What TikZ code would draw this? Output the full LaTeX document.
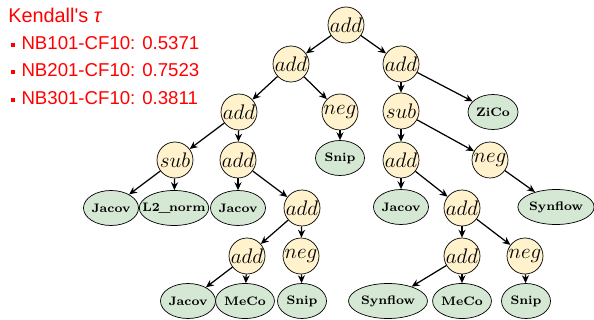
\documentclass[tikz,border=0pt]{standalone}
\usepackage{fontspec}
\newfontfamily\arialfont{Liberation Sans}
\usetikzlibrary{shapes.geometric,arrows.meta,positioning}

\definecolor{opfill}{HTML}{FFF2CC}
\definecolor{leaffill}{HTML}{D5E8D4}

\tikzset{
  op/.style={circle,draw,fill=opfill,inner sep=0pt,minimum size=0.72cm,font=\fontsize{11.8}{13}\selectfont},
  leaf/.style={ellipse,draw,fill=leaffill,inner xsep=0pt,inner ysep=0pt,minimum height=0.7cm,minimum width=1cm,font=\scriptsize\bfseries},
  arr/.style={-{Stealth[length=4.5pt,width=4pt]},line width=0.7pt},
  redtxt/.style={anchor=west,inner sep=0pt,text=red,font=\arialfont\fontsize{10.6}{12}\selectfont}
}

\newcommand{\sqbul}{\rule[0.25ex]{2.3pt}{2.3pt}\hspace{3.5pt}}

\begin{document}
\begin{tikzpicture}[x=0.02cm,y=-0.02cm]
\useasboundingbox (0,0) rectangle (594,320);

% Kendall's tau
\node[redtxt,font=\arialfont\fontsize{11.3}{13}\selectfont] (title) at (8,15) {Kendall's {\itshape τ}};
\node[redtxt] (nb1) at (11,43) {\sqbul NB101-CF10: 0.5371};
\node[redtxt] (nb2) at (11,70) {\sqbul NB201-CF10: 0.7523};
\node[redtxt] (nb3) at (11,98) {\sqbul NB301-CF10: 0.3811};

% operators
\node[op] (root) at (346,25) {$add$};
\node[op] (addL) at (291,64) {$add$};
\node[op] (addR) at (401,64) {$add$};
\node[op] (addLL) at (239,112) {$add$};
\node[op] (negL) at (340,112) {$neg$};
\node[op] (subR) at (401,111) {$sub$};
\node[op] (subLL) at (175,160) {$sub$};
\node[op] (addLLR) at (238,160) {$add$};
\node[op] (addRL) at (401,160) {$add$};
\node[op] (negR) at (490,160) {$neg$};
\node[op] (addM) at (302,208) {$add$};
\node[op] (addRR) at (462,208) {$add$};
\node[op] (addB1) at (247,256) {$add$};
\node[op] (negB1) at (301,256) {$neg$};
\node[op] (addB2) at (462,256) {$add$};
\node[op] (negB2) at (525,256) {$neg$};

% leaves
\node[leaf] (zico) at (493,112) {ZiCo};
\node[leaf,minimum width=0.98cm] (snip1) at (340,158) {Snip};
\node[leaf] (jacov1) at (111,208) {Jacov};
\node[leaf,inner xsep=-4pt,minimum width=1.26cm] (l2norm) at (174,208) {L2\kern-0.8pt\_\kern-0.8pt norm};
\node[leaf] (jacov2) at (238,208) {Jacov};
\node[leaf] (jacov3) at (401,207) {Jacov};
\node[leaf,minimum width=1.5cm] (synflow1) at (556,207) {Synflow};
\node[leaf] (jacov4) at (188,301) {Jacov};
\node[leaf] (meco1) at (245,301) {MeCo};
\node[leaf,minimum width=0.98cm] (snip2) at (302,301) {Snip};
\node[leaf,minimum width=1.58cm] (synflow2) at (388,301) {Synflow};
\node[leaf] (meco2) at (462,301) {MeCo};
\node[leaf,minimum width=0.98cm] (snip3) at (526,301) {Snip};

% edges
\draw[arr] (root) -- (addL);
\draw[arr] (root) -- (addR);
\draw[arr] (addL) -- (addLL);
\draw[arr] (addL) -- (negL);
\draw[arr] (negL) -- (snip1);
\draw[arr] (addR) -- (subR);
\draw[arr] (addR) -- (zico);
\draw[arr] (addLL) -- (subLL);
\draw[arr] (addLL) -- (addLLR);
\draw[arr] (subLL) -- (jacov1);
\draw[arr] (subLL) -- (l2norm);
\draw[arr] (addLLR) -- (jacov2);
\draw[arr] (addLLR) -- (addM);
\draw[arr] (addM) -- (addB1);
\draw[arr] (addM) -- (negB1);
\draw[arr] (addB1) -- (jacov4);
\draw[arr] (addB1) -- (meco1);
\draw[arr] (negB1) -- (snip2);
\draw[arr] (subR) -- (addRL);
\draw[arr] (subR) -- (negR);
\draw[arr] (negR) -- (synflow1);
\draw[arr] (addRL) -- (jacov3);
\draw[arr] (addRL) -- (addRR);
\draw[arr] (addRR) -- (addB2);
\draw[arr] (addRR) -- (negB2);
\draw[arr] (addB2) -- (synflow2);
\draw[arr] (addB2) -- (meco2);
\draw[arr] (negB2) -- (snip3);

\end{tikzpicture}
\end{document}
